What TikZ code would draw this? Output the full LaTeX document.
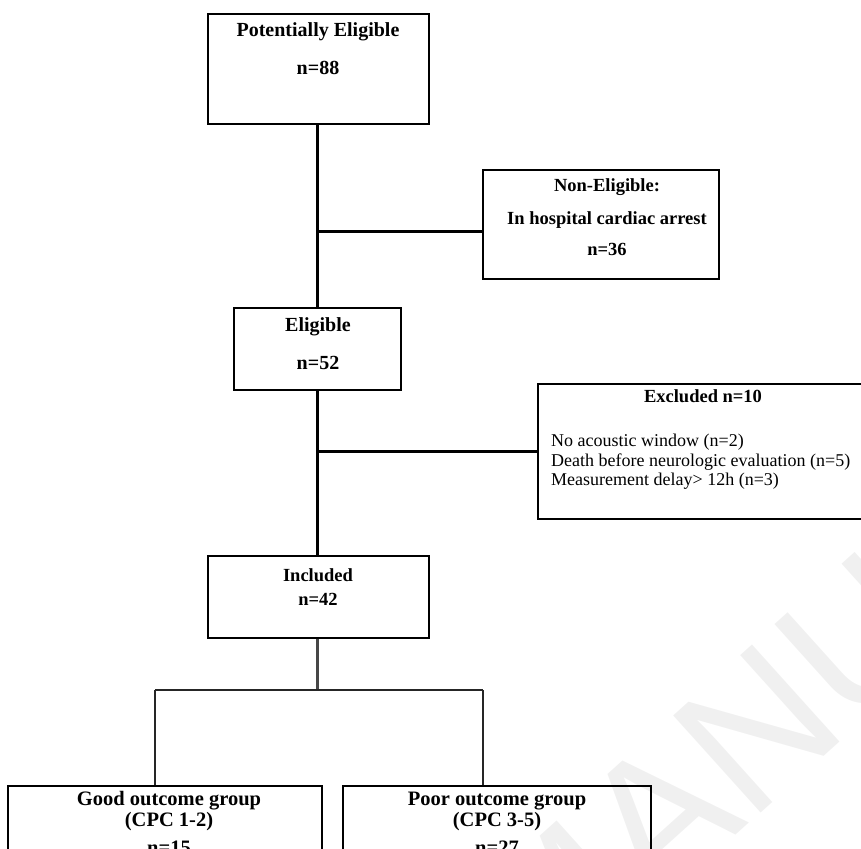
\documentclass[tikz,border=0pt]{standalone}
\usepackage{fontspec}
\setmainfont{Liberation Serif}
\newfontfamily\wmfont{Liberation Sans}
\begin{document}
\begin{tikzpicture}[x=1pt,y=-1pt,
  box/.style={draw=black, line width=2pt, rectangle, inner sep=0pt, fill=white},
  conn/.style={draw=black, line width=3pt},
  connb/.style={draw=black!85, line width=2.4pt},
  ttl/.style={font=\bfseries\fontsize{20}{24}\selectfont, inner sep=0pt, anchor=center},
  ttls/.style={font=\bfseries\fontsize{18.5}{22}\selectfont, inner sep=0pt, anchor=center},
  body/.style={font=\fontsize{18}{20}\selectfont, inner sep=0pt, anchor=west},
  grp/.style={font=\bfseries\fontsize{20.5}{21}\selectfont, inner sep=0pt, anchor=center}]
\useasboundingbox (0,0) rectangle (861,848);
\clip (0,0) rectangle (861,848);
\fill[white] (0,0) rectangle (861,848);

% boxes
\node[box, minimum width=221pt, minimum height=110pt] (pe) at (318.5,69) {};
\node[box, minimum width=236pt, minimum height=109pt] (ne) at (601,224.5) {};
\node[box, minimum width=167pt, minimum height=82pt] (el) at (317.5,349) {};
\node[box, minimum width=332pt, minimum height=135pt] (ex) at (704,451.5) {};
\node[box, minimum width=221pt, minimum height=82pt] (in) at (318.5,597) {};
\node[box, minimum width=314pt, minimum height=114pt] (good) at (165,843) {};
\node[box, minimum width=308pt, minimum height=114pt] (poor) at (497,843) {};

% texts
\node[ttl] (t1) at (318,32) {Potentially Eligible};
\node[ttl] (t2) at (318,68) {n=88};
\node[ttls] (t3) at (607,187) {Non-Eligible:};
\node[ttls] (t4) at (607,220) {In hospital cardiac arrest};
\node[ttls] (t5) at (607,249) {n=36};
\node[ttl] (t6) at (318,327) {Eligible};
\node[ttl] (t7) at (318,363) {n=52};
\node[ttls] (t8) at (703,396) {Excluded n=10};
\node[body] (t9) at (551,442) {No acoustic window (n=2)};
\node[body] (t10) at (551,462) {Death before neurologic evaluation (n=5)};
\node[body] (t11) at (551,481) {Measurement delay> 12h (n=3)};
\node[ttls] (t12) at (318,575) {Included};
\node[ttls] (t13) at (318,599) {n=42};
\node[grp] (t14) at (169,801) {Good outcome group};
\node[grp] (t15) at (169,822) {(CPC 1-2)};
\node[grp] (t16) at (169,848) {n=15};
\node[grp] (t17) at (497,801) {Poor outcome group};
\node[grp] (t18) at (497,822) {(CPC 3-5)};
\node[grp] (t19) at (497,848) {n=27};

% connectors
\coordinate (b1) at (317,231);
\coordinate (b2) at (317,451.5);
\coordinate (split) at (317,690);
\coordinate (gl) at (155,690);
\coordinate (gr) at (483,690);
\draw[conn] (pe.south -| b1) -- (el.north -| b1);
\draw[conn] (el.south -| b1) -- (in.north -| b1);
\draw[conn] (b1) -- (b1 -| ne.west);
\draw[conn] (b2) -- (ex.west);
\draw[connb, draw=black!72, line width=3pt] (in.south -| split) -- (split);
\draw[connb] (gl) -- (gr);
\draw[connb] (gl) -- (gl |- good.north);
\draw[connb] (gr) -- (gr |- poor.north);

% watermark
\node[font=\wmfont\fontsize{190}{190}\selectfont, text=black, opacity=0.06,
      rotate=42, anchor=base west, inner sep=0pt] (wm) at (538,1014) {MANUSCRIPT};
\end{tikzpicture}
\end{document}
